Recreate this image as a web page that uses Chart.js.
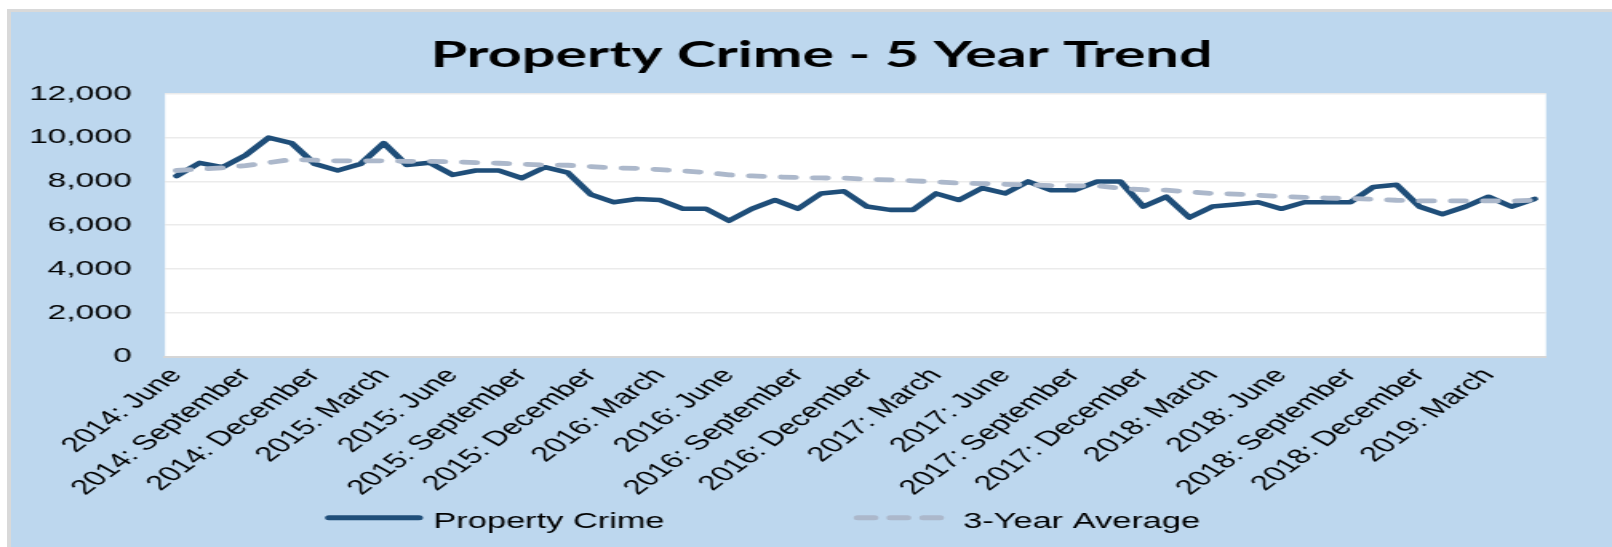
<!DOCTYPE html>
<html><head><meta charset="utf-8">
<script src="https://cdn.jsdelivr.net/npm/chart.js@4/dist/chart.umd.min.js"></script>
<style>
html,body{margin:0;padding:0;background:#fff;width:1612px;height:547px;overflow:hidden}
#frame{position:absolute;left:7px;top:9px;width:1605px;height:538px;background:#BDD7EE;border-left:4px solid #d9d9d9;border-top:3px solid #d9d9d9;box-sizing:border-box}
#wrap{position:absolute;left:0;top:0;width:1008px;height:547px;transform:scaleX(1.599206);transform-origin:0 0}
</style></head><body>
<div id="frame"></div>
<div id="wrap"><canvas id="c"></canvas></div>
<script>
const categories = [
 "2014: June","2014: July","2014: August","2014: September","2014: October","2014: November","2014: December",
 "2015: January","2015: February","2015: March","2015: April","2015: May","2015: June","2015: July","2015: August","2015: September","2015: October","2015: November","2015: December",
 "2016: January","2016: February","2016: March","2016: April","2016: May","2016: June","2016: July","2016: August","2016: September","2016: October","2016: November","2016: December",
 "2017: January","2017: February","2017: March","2017: April","2017: May","2017: June","2017: July","2017: August","2017: September","2017: October","2017: November","2017: December",
 "2018: January","2018: February","2018: March","2018: April","2018: May","2018: June","2018: July","2018: August","2018: September","2018: October","2018: November","2018: December",
 "2019: January","2019: February","2019: March","2019: April","2019: May"
];
const propertyCrime = [
 8250, 8850, 8650, 9200, 10000, 9750, 8800, 8500, 8800, 9750, 8750, 8850, 8300, 8500, 8500, 8150, 8650,
 8400, 7400, 7050, 7200, 7150, 6750, 6750, 6200, 6750, 7150, 6750, 7450, 7550, 6850, 6700, 6700, 7450, 7150, 7700, 7450, 8000, 7600, 7600,
 8000, 8000, 6850, 7300, 6350, 6850, 6950, 7050, 6750, 7050, 7050, 7050, 7750, 7850, 6850, 6500, 6850, 7300, 6850, 7200
];
const threeYearAverage = [
 8500, 8560, 8620, 8725, 8860, 9000, 8970, 8940, 8940, 8940, 8920, 8920, 8900, 8860, 8830, 8785, 8755,
 8740, 8680, 8620, 8600, 8540, 8480, 8410, 8300, 8250, 8210, 8180, 8160, 8150, 8100, 8070, 8030, 7980, 7920, 7900, 7870, 7840, 7810, 7800,
 7800, 7690, 7620, 7600, 7520, 7450, 7420, 7370, 7310, 7270, 7240, 7220, 7190, 7140, 7110, 7110, 7110, 7110, 7110, 7140
];
const seriesNames = ["Property Crime", "3-Year Average"];
const yMin = 0, yMax = 12000, yStep = 2000;
const labelEvery = 3;

const plotBackground = {
  id: 'plotBackground',
  afterLayout(chart) {
    // let the y tick labels use the space to the left of the axis box
    chart.scales.y.left = 0;
  },
  beforeDraw(chart) {
    const {ctx, chartArea: a} = chart;
    ctx.save();
    ctx.fillStyle = '#ffffff';
    ctx.fillRect(a.left, a.top, a.right - a.left, a.bottom - a.top);
    ctx.restore();
  }
};

const customLegend = {
  id: 'customLegend',
  afterDraw(chart) {
    const ctx = chart.ctx;
    const slots = [
      {x0: 205.7, x1: 262.0, tx: 271.0},
      {x0: 536.3, x1: 587.8, tx: 602.2}
    ];
    const lineY = 517.8, textY = 527.7;
    chart.data.datasets.forEach((ds, i) => {
      const s = slots[i];
      ctx.save();
      ctx.strokeStyle = ds.borderColor;
      ctx.lineWidth = 5;
      ctx.lineCap = 'round';
      ctx.setLineDash(ds.borderDash ? [10.5, 10] : []);
      ctx.beginPath();
      ctx.moveTo(s.x0, lineY);
      ctx.lineTo(s.x1, lineY);
      ctx.stroke();
      ctx.setLineDash([]);
      ctx.fillStyle = '#000';
      ctx.font = '21.5px "Liberation Sans"';
      ctx.textAlign = 'left';
      ctx.textBaseline = 'alphabetic';
      ctx.fillText(ds.label, s.tx, textY);
      ctx.restore();
    });
  }
};

new Chart(document.getElementById('c'), {
  type: 'line',
  data: {
    labels: categories,
    datasets: [
      {label: seriesNames[0], data: propertyCrime, borderColor: '#1F4E79', borderWidth: 4.6,
       pointRadius: 0, tension: 0, borderJoinStyle: 'round', borderCapStyle: 'round', order: 1, fill: false},
      {label: seriesNames[1], data: threeYearAverage, borderColor: '#ACB8CB', borderWidth: 4.8,
       borderDash: [8.5, 11.5], borderCapStyle: 'round', pointRadius: 0, tension: 0, order: 0, fill: false}
    ]
  },
  options: {
    responsive: true, maintainAspectRatio: false, animation: false, devicePixelRatio: 1,
    events: [],
    layout: {padding: {left: 60.66, right: 41.26, top: 0, bottom: 0}},
    plugins: {
      legend: {display: false},
      tooltip: {enabled: false},
      title: {display: true, text: 'Property Crime - 5 Year Trend', color: '#000',
        font: {family: 'Lato', size: 37, weight: 'bold', lineHeight: 1.2},
        padding: {top: 32.5, bottom: 17}}
    },
    scales: {
      x: {
        offset: true,
        grid: {display: false, drawTicks: false},
        border: {display: true, color: '#d6d6d6', width: 2},
        ticks: {autoSkip: false, maxRotation: 49, minRotation: 49, padding: 7, color: '#000',
          font: {family: 'Liberation Sans', size: 20.8},
          callback(v, i) { return i % labelEvery === 0 ? categories[i] : ''; }},
        afterFit(s) { s.height = 547 - 356.5; }
      },
      y: {
        min: yMin, max: yMax,
        ticks: {stepSize: yStep, padding: 20.8, color: '#000', font: {family: 'Liberation Sans', size: 21},
          callback: v => Number(v).toLocaleString('en-US')},
        grid: {color: '#ebebeb', lineWidth: 1.5, drawTicks: false},
        border: {display: false},
        afterFit(s) { s.width = 103.18 - 60.66; }
      }
    }
  },
  plugins: [plotBackground, customLegend]
});
</script>
</body></html>
